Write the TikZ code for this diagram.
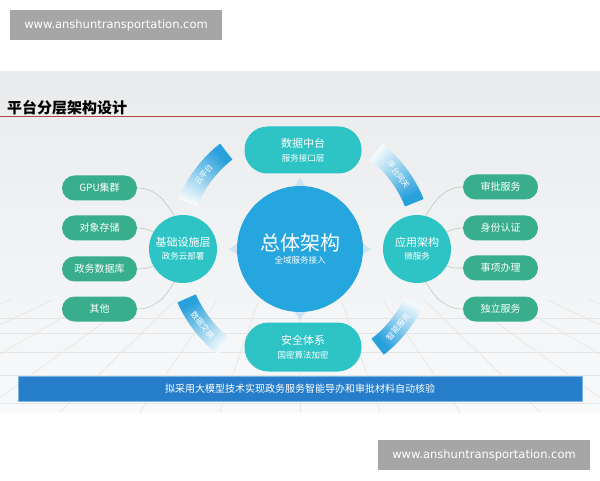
\documentclass[tikz,border=0pt]{standalone}
\usepackage{fontspec}
\newfontfamily\cjk{Noto Sans CJK SC}
\newfontfamily\wm{DejaVu Sans}
\usetikzlibrary{calc}
\definecolor{mainblue}{RGB}{38,166,223}
\definecolor{tealc}{RGB}{46,196,198}
\definecolor{pillgreen}{RGB}{56,174,141}
\definecolor{bandblue}{RGB}{40,160,220}
\definecolor{barblue}{RGB}{38,126,202}
\definecolor{wmgray}{RGB}{166,166,166}
\definecolor{titlered}{RGB}{178,70,62}
\definecolor{tricol}{RGB}{196,226,244}
\newcommand\arcband[4]{%
  \foreach \i in {0,...,39}{%
    \pgfmathsetmacro\aa{#1+(#2-#1)*\i/40}%
    \pgfmathsetmacro\bb{#1+(#2-#1)*(\i+1.3)/40}%
    \pgfmathsetmacro\pp{min(100,4+\i*2.7)}%
    \fill[bandblue!\pp!white] (\aa:#3) arc[start angle=\aa, end angle=\bb, radius=#3pt] -- (\bb:#4) arc[start angle=\bb, end angle=\aa, radius=#4pt] -- cycle;
  }}
\begin{document}
\begin{tikzpicture}[x=1pt,y=1pt,
  lpill/.style={rectangle, rounded corners=12.5pt, minimum width=75pt, minimum height=25pt, inner sep=0pt, fill=pillgreen, text=white, font=\cjk\fontsize{10}{12}\selectfont},
  tpill/.style={rectangle, rounded corners=23pt, minimum width=117pt, minimum height=47pt, inner sep=0pt, fill=tealc, text=white, align=center, font=\cjk},
  scirc/.style={circle, minimum size=68pt, inner sep=0pt, fill=tealc, text=white, align=center, font=\cjk},
  conn/.style={draw=gray!45, line width=0.6pt},
  tri/.style={fill=tricol, fill opacity=0.85},
  bandlbl/.style={text=white, font=\cjk\fontsize{8}{9}\selectfont, inner sep=0pt},
  wmbox/.style={rectangle, fill=wmgray, text=white, minimum width=212pt, minimum height=30pt, inner sep=0pt, font=\wm\fontsize{11.5}{13}\selectfont}
]
\useasboundingbox (0,0) rectangle (600,480);
\fill[white] (0,0) rectangle (600,480);
% panel
\shade[top color={rgb,255:red,234;green,235;blue,236}, bottom color={rgb,255:red,248;green,249;blue,250}] (0,68) rectangle (600,408);
% floor lines
\begin{scope}
\clip (0,68) rectangle (600,180);
\foreach \xx in {-660,-580,...,1260}{ \draw[gray!20, line width=0.6pt] (300,300) -- (\xx,68); }
\foreach \yy in {162,147,128,105,77}{ \draw[gray!20, line width=0.6pt] (0,\yy) -- (600,\yy); }
\end{scope}
% watermarks
\node[wmbox] (wm1) at (116,455) {www.anshuntransportation.com};
\node[wmbox] (wm2) at (484,25) {www.anshuntransportation.com};
% title
\node[anchor=west, inner sep=0pt, font=\cjk\bfseries\fontsize{15}{17}\selectfont] (title) at (7,372) {平台分层架构设计};
\draw[titlered, line width=1pt] (0,363) -- (600,363);
% arc bands
\begin{scope}[shift={(301,232)}]
\arcband{158}{128}{112}{132}
\arcband{52}{22}{112}{132}
\arcband{232}{204}{115}{135}
\arcband{-26}{-52}{115}{135}
\node[bandlbl, rotate=53] (b1) at (143:122) {云平台};
\node[bandlbl, rotate=-53] (b2) at (37:122) {平台网关};
\node[bandlbl, rotate=-52] (b3) at (218:125) {数据交换};
\node[bandlbl, rotate=51] (b4) at (-39:125) {智能服务};
\end{scope}
% central circle
\node[circle, minimum size=126pt, inner sep=0pt, fill=mainblue, text=white, align=center, font=\cjk] (M) at (300,231)
  {{\fontsize{20}{22}\selectfont 总体架构}\\[1pt]{\fontsize{8.5}{10}\selectfont 全域服务接入}};
% small triangles
\fill[tri] ($(M.north)+(-5,0)$) -- ($(M.north)+(5,0)$) -- ($(M.north)+(0,8)$) -- cycle;
\fill[tri] ($(M.south)+(-5,0)$) -- ($(M.south)+(5,0)$) -- ($(M.south)+(0,-8)$) -- cycle;
\fill[tri] ($(M.west)+(0,-5)$) -- ($(M.west)+(0,5)$) -- ($(M.west)+(-8,0)$) -- cycle;
\fill[tri] ($(M.east)+(0,-5)$) -- ($(M.east)+(0,5)$) -- ($(M.east)+(8,0)$) -- cycle;
% top / bottom pills
\node[tpill] (T) at (303,330) {{\fontsize{11}{13}\selectfont 数据中台}\\[2pt]{\fontsize{8.5}{10}\selectfont 服务接口层}};
\node[tpill, minimum height=49pt, rounded corners=24pt] (B) at (303,133) {{\fontsize{11}{13}\selectfont 安全体系}\\[2pt]{\fontsize{8.5}{10}\selectfont 国密算法加密}};
% side circles
\node[scirc] (L) at (183,231) {{\fontsize{11}{13}\selectfont 基础设施层}\\[1pt]{\fontsize{8.5}{10}\selectfont 政务云部署}};
\node[scirc] (R) at (417,231) {{\fontsize{11}{13}\selectfont 应用架构}\\[1pt]{\fontsize{8.5}{10}\selectfont 微服务}};
% left pills
\node[lpill] (l1) at (99.5,292) {GPU集群};
\node[lpill] (l2) at (99.5,252) {对象存储};
\node[lpill] (l3) at (99.5,211) {政务数据库};
\node[lpill] (l4) at (99.5,171) {其他};
% right pills
\node[lpill] (r1) at (500.5,293) {审批服务};
\node[lpill] (r2) at (500.5,252) {身份认证};
\node[lpill] (r3) at (500.5,212) {事项办理};
\node[lpill] (r4) at (500.5,171) {独立服务};
% connectors
\draw[conn] (l1.east) to[out=0, in=120] (L.105);
\draw[conn] (l2.east) to[out=0, in=160] (L.150);
\draw[conn] (l3.east) to[out=0, in=200] (L.210);
\draw[conn] (l4.east) to[out=0, in=240] (L.255);
\draw[conn] (r1.west) to[out=180, in=60] (R.75);
\draw[conn] (r2.west) to[out=180, in=20] (R.30);
\draw[conn] (r3.west) to[out=180, in=-20] (R.-30);
\draw[conn] (r4.west) to[out=180, in=-60] (R.-75);
% bottom bar
\node[rectangle, minimum width=564pt, minimum height=25pt, inner sep=0pt, fill=barblue, draw={rgb,255:red,120;green,180;blue,230}, line width=0.6pt, text=white, font=\cjk\fontsize{10}{12}\selectfont] (bar) at (300,91) {拟采用大模型技术实现政务服务智能导办和审批材料自动核验};
\end{tikzpicture}
\end{document}
